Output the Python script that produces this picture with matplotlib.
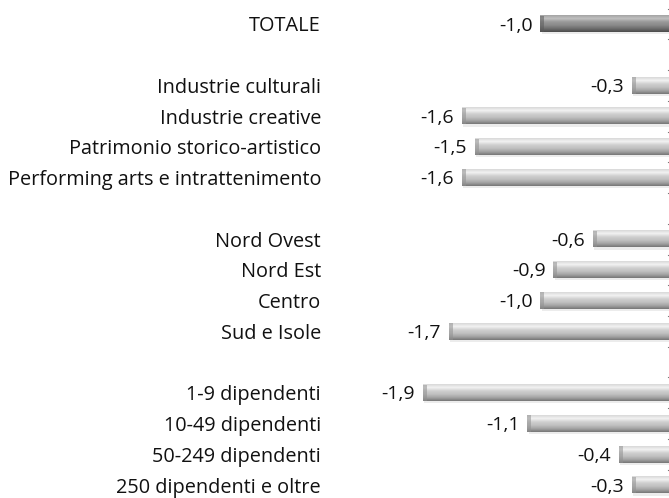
import numpy as np
import matplotlib.pyplot as plt
from matplotlib.colors import LinearSegmentedColormap

# dati (variazione %)
labels = ["TOTALE", "",
          "Industrie culturali", "Industrie creative",
          "Patrimonio storico-artistico", "Performing arts e intrattenimento", "",
          "Nord Ovest", "Nord Est", "Centro", "Sud e Isole", "",
          "1-9 dipendenti", "10-49 dipendenti", "50-249 dipendenti",
          "250 dipendenti e oltre"]
values = [-1.0, None,
          -0.3, -1.6, -1.5, -1.6, None,
          -0.6, -0.9, -1.0, -1.7, None,
          -1.9, -1.1, -0.4, -0.3]

plt.rcParams['font.family'] = ['Open Sans', 'DejaVu Sans']

fig = plt.figure(figsize=(6.69, 4.98), dpi=100)
ax = fig.add_axes([335/669, 0, 334/669, 1])

grey = LinearSegmentedColormap.from_list(
    "g", ["#d8d8d8", "#f2f2f2", "#d0d0d0", "#c0c0c0", "#a4a4a4", "#767676"])
dark = LinearSegmentedColormap.from_list(
    "d", ["#a4a4a4", "#c0c0c0", "#9a9a9a", "#8a8a8a", "#6e6e6e", "#4c4c4c"])
grad = np.linspace(0, 1, 64).reshape(-1, 1)

h = 0.54
for i, v in enumerate(values):
    if v is None:
        continue
    cm = dark if i == 0 else grey
    # ombra
    ax.add_patch(plt.Rectangle((v + 0.01, i - h/2 + 0.07), -v, h,
                               color="#ececec", zorder=1, lw=0))
    ax.imshow(grad, cmap=cm, aspect="auto", origin="upper",
              extent=(v, 0.05, i + h/2, i - h/2), zorder=2)
    # bordo sinistro smussato
    ax.add_patch(plt.Rectangle((v, i - h/2), 0.03, h,
                               color="#909090" if i else "#5a5a5a",
                               alpha=0.55, zorder=3, lw=0))
    ax.text(v - 0.06, i + 0.05, f"{v:.1f}".replace(".", ","), ha="right",
            va="center", fontsize=14, color="#111111")

# piccoli segni dell'asse
for b in np.arange(-0.5, len(values), 1.0):
    ax.plot([-0.025, -0.012], [b, b], color="#777777", lw=0.8, zorder=4)

ax.set_xlim(-2.572, -0.015)
ax.set_ylim(15.42, -0.78)
ax.set_yticks(range(len(labels)))
ax.set_yticklabels(labels, fontsize=14.3, color="#111111")
ax.tick_params(axis="y", length=0, pad=10)
ax.set_xticks([])
for s in ax.spines.values():
    s.set_visible(False)

fig.savefig("out.png", dpi=100)
